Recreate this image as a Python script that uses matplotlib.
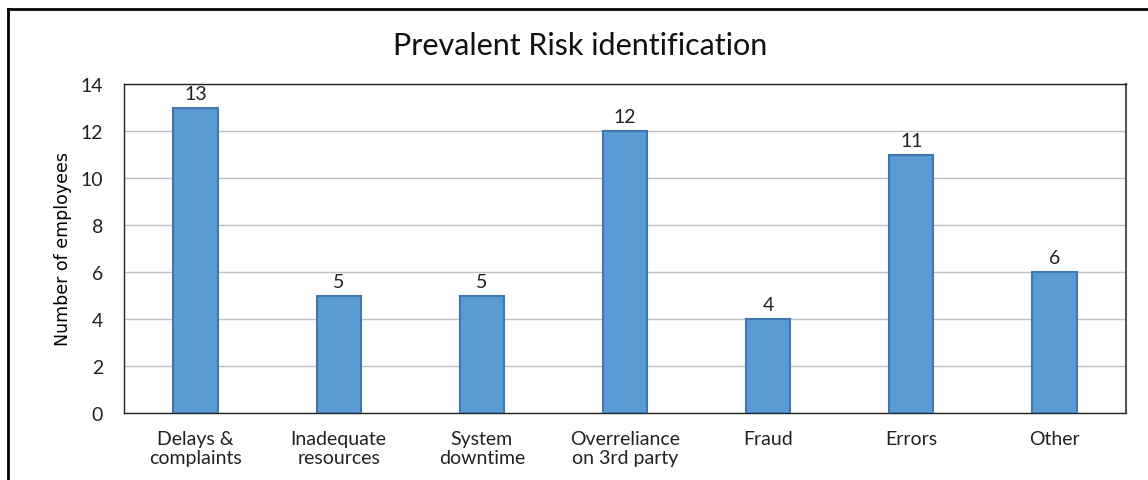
import matplotlib
matplotlib.use("Agg")
import matplotlib.pyplot as plt
from matplotlib.lines import Line2D

categories = ["Delays &\ncomplaints", "Inadequate\nresources", "System\ndowntime",
              "Overreliance\non 3rd party", "Fraud", "Errors", "Other"]
employees = [13, 5, 5, 12, 4, 11, 6]
y_ticks = [0, 2, 4, 6, 8, 10, 12, 14]

plt.rcParams['font.family'] = ['Lato', 'DejaVu Sans']

fig = plt.figure(figsize=(11.48, 4.81), dpi=100)
W, H = 1148, 481
ax = fig.add_axes([124 / W, 1 - 414 / H, (1126 - 124) / W, (414 - 85) / H])

x = range(len(categories))
bars = ax.bar(x, employees, width=0.31, color='#5B9BD5', edgecolor='#3F77AE',
              linewidth=1.5, zorder=3)
for b, v in zip(bars, employees):
    ax.annotate(str(v), (b.get_x() + b.get_width() / 2, v), xytext=(0, 4),
                textcoords='offset points', ha='center', va='bottom',
                fontsize=14, color='#222222')

ax.set_xlim(-0.5, len(categories) - 0.5)
ax.set_ylim(0, 14)
ax.set_yticks(y_ticks)
ax.set_xticks(list(x))
ax.set_xticklabels(categories, fontsize=14, color='#222222', linespacing=1.2)
ax.tick_params(axis='y', labelsize=14, colors='#222222', length=0, pad=15)
ax.tick_params(axis='x', length=0, pad=12)
ax.grid(axis='y', color='#C0C0C0', linewidth=1, zorder=0)
for s in ax.spines.values():
    s.set_color('#222222')
    s.set_linewidth(1)
ax.spines['right'].set_color('#555555')
ax.spines['right'].set_linewidth(1.5)

ax.set_ylabel('Number of employees', fontsize=12.5, family=['DejaVu Sans'], labelpad=6)

fig.text(580 / W, 1 - 46 / H, 'Prevalent Risk identification', ha='center', va='center',
         fontsize=22, color='#111111')

# outer frame (top and left edges visible)
fig.add_artist(Line2D([8 / W, 1], [1 - 10 / H, 1 - 10 / H], color='black', linewidth=2,
                      transform=fig.transFigure))
fig.add_artist(Line2D([8 / W, 8 / W], [0, 1 - 10 / H], color='black', linewidth=2,
                      transform=fig.transFigure))

fig.savefig('out.png', dpi=100, facecolor='white')
